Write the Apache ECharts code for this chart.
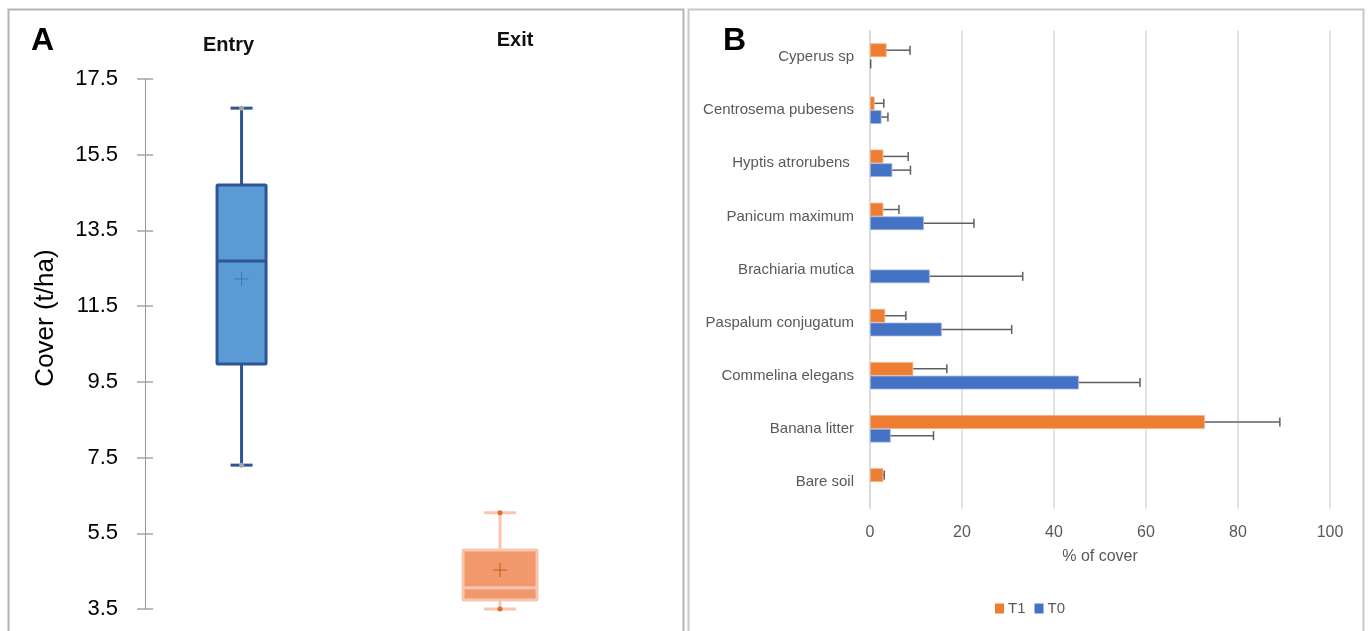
<!DOCTYPE html>
<html>
<head>
<meta charset="utf-8">
<script src="https://cdn.jsdelivr.net/npm/echarts@6/dist/echarts.min.js"></script>
<style>
  html, body { margin: 0; padding: 0; background: #fff; }
  #chart { width: 1368px; height: 631px; }
</style>
</head>
<body>
<div id="chart"></div>
<script>
// panel A: cover (t/ha), box stats = min, Q1, median, Q3, max
const groups = ["Entry", "Exit"];
const entryBox = [7.30, 9.97, 12.69, 14.70, 16.73];
const exitBox = [3.50, 3.74, 4.06, 5.06, 6.04];
const groupMeans = [12.22, 4.53];
const coverTicks = { min: 3.5, max: 17.5, step: 2 };

// panel B: % of cover by species (T1 / T0) with sd
const species = [
  "Bare soil", "Banana litter", "Commelina elegans", "Paspalum conjugatum",
  "Brachiaria mutica", "Panicum maximum", "Hyptis atrorubens ",
  "Centrosema pubesens", "Cyperus sp"
];
const t1Cover = [2.9, 72.8, 9.4, 3.3, 0, 2.9, 2.9, 1.0, 3.6];
const t1Err = [0.2, 16.3, 7.3, 4.5, null, 3.4, 5.4, 2.0, 5.1];
const t0Cover = [0, 4.5, 45.4, 15.6, 13.0, 11.7, 4.85, 2.5, 0];
const t0Err = [null, 9.3, 13.3, 15.2, 20.2, 10.9, 3.95, 1.4, 0.15];

const el = (id) => document.getElementById(id);
const chart = echarts.init(el("chart"));

const BAR_W = 13.7;
const fontA = "Liberation Sans";
const fontB = "Liberation Sans";

const entryStyle = {
  boxW: 49, capW: 22, fill: "#5B9BD5", stroke: "#2F5597", lw: 3,
  whisker: "#2F5597", median: "#2F5597", dot: "#A5A5A5", cross: "#4472C4"
};
const exitStyle = {
  boxW: 74, capW: 32, fill: "#F1996C", stroke: "#F8C5AE", lw: 3,
  whisker: "#F8C5AE", median: "#F8C5AE", dot: "#E46C2A", cross: "#C55A11"
};

function boxItem(s) {
  return function (params, api) {
    const c = api.value(0);
    const lo = api.coord([c, api.value(1)]);
    const q1 = api.coord([c, api.value(2)]);
    const md = api.coord([c, api.value(3)]);
    const q3 = api.coord([c, api.value(4)]);
    const hi = api.coord([c, api.value(5)]);
    const mn = api.coord([c, api.value(6)]);
    const x = lo[0], hw = s.boxW / 2, cw = s.capW / 2;
    const ln = (x1, y1, x2, y2, color, w) => ({
      type: "line", shape: { x1, y1, x2, y2 }, style: { stroke: color, lineWidth: w }
    });
    return {
      type: "group",
      children: [
        ln(x, q3[1], x, hi[1], s.whisker, s.lw),
        ln(x, q1[1], x, lo[1], s.whisker, s.lw),
        ln(x - cw, hi[1], x + cw, hi[1], s.whisker, s.lw),
        ln(x - cw, lo[1], x + cw, lo[1], s.whisker, s.lw),
        {
          type: "rect",
          shape: { x: x - hw, y: q3[1], width: s.boxW, height: q1[1] - q3[1], r: 1 },
          style: { fill: s.fill, stroke: s.stroke, lineWidth: s.lw }
        },
        ln(x - hw, md[1], x + hw, md[1], s.median, s.lw),
        ln(x - 7, mn[1], x + 7, mn[1], s.cross, 1),
        ln(x, mn[1] - 7, x, mn[1] + 7, s.cross, 1),
        { type: "circle", shape: { cx: x, cy: hi[1], r: 2.5 }, style: { fill: s.dot } },
        { type: "circle", shape: { cx: x, cy: lo[1], r: 2.5 }, style: { fill: s.dot } }
      ]
    };
  };
}

function errItem(shift) {
  return function (params, api) {
    const cat = api.value(0);
    const a = api.coord([api.value(1), cat]);
    const b = api.coord([api.value(1) + api.value(2), cat]);
    const y = a[1] + shift;
    return {
      type: "group",
      children: [
        { type: "line", shape: { x1: a[0], y1: y, x2: b[0], y2: y }, style: { stroke: "#5f5f5f", lineWidth: 1.5 } },
        { type: "line", shape: { x1: b[0], y1: y - 4.5, x2: b[0], y2: y + 4.5 }, style: { stroke: "#5f5f5f", lineWidth: 1.5 } }
      ]
    };
  };
}

const errRows = (vals, errs) =>
  vals.map((v, i) => [i, v, errs[i]]).filter(r => r[2] !== null);

// zero bars would leave a thin border line, Excel draws nothing there
const barItems = (vals) => vals.map(v => v === 0 ? { value: 0, itemStyle: { borderWidth: 0, opacity: 0 } } : v);

const yAxisA = {
  type: "value", gridIndex: 0, position: "left",
  min: coverTicks.min, max: coverTicks.max, interval: coverTicks.step,
  offset: -32.7
};

chart.setOption({
  animation: false,
  textStyle: { fontFamily: fontA },
  graphic: [
    { type: "rect", shape: { x: 8.5, y: 9.5, width: 675, height: 640 }, style: { fill: "none", stroke: "#b4b4b4", lineWidth: 2 } },
    { type: "rect", shape: { x: 688.5, y: 9.5, width: 675, height: 640 }, style: { fill: "none", stroke: "#c8c8c8", lineWidth: 2 } }
  ],
  title: [
    { text: "A", left: 26, top: 20, textStyle: { fontSize: 32, fontWeight: "bold", color: "#000", fontFamily: fontA } },
    { text: "B", left: 718, top: 20, textStyle: { fontSize: 32, fontWeight: "bold", color: "#000", fontFamily: fontA } }
  ],
  legend: {
    data: ["T1", "T0"],
    left: 990, top: 596,
    itemWidth: 9, itemHeight: 10, itemGap: 9, icon: "rect",
    itemStyle: { borderWidth: 0 },
    textStyle: { fontSize: 15, color: "#595959", fontFamily: fontB, padding: [0, 0, 0, -1] }
  },
  grid: [
    { left: 112.3, right: 738.7, top: 79, bottom: 22, outerBoundsMode: "none" },
    { left: 870, right: 38, top: 30.5, bottom: 122.5, outerBoundsMode: "none" }
  ],
  xAxis: [
    {
      type: "category", gridIndex: 0, data: groups, position: "top",
      axisLine: { show: false }, axisTick: { show: false },
      axisLabel: {
        interval: 0, margin: 24,
        formatter: (v) => v === "Entry" ? "{en|" + v + "}" : "{ex|" + v + "}",
        rich: {
          en: { fontSize: 20, fontWeight: "bold", color: "#111", fontFamily: fontA, padding: [0, 26, 0, 0] },
          ex: { fontSize: 20, fontWeight: "bold", color: "#111", fontFamily: fontA, padding: [0, 0, 5, 30] }
        }
      }
    },
    {
      type: "value", gridIndex: 1, min: 0, max: 100, interval: 20,
      axisLine: { show: false }, axisTick: { show: false },
      splitLine: { lineStyle: { color: "#d9d9d9", width: 1.5 } },
      axisLabel: { fontSize: 16, color: "#595959", margin: 16, fontFamily: fontB },
      name: "% of cover", nameLocation: "middle", nameGap: 40,
      nameTextStyle: { fontSize: 16, color: "#595959", fontFamily: fontB }
    }
  ],
  yAxis: [
    Object.assign({}, yAxisA, {
      name: "Cover (t/ha)", nameLocation: "middle", nameGap: 86,
      nameTextStyle: { fontSize: 26, color: "#000", fontFamily: fontA, padding: [0, 0, 0, 52] },
      axisLine: { show: true, lineStyle: { color: "#959595", width: 1 } },
      axisTick: { show: true, length: 8, lineStyle: { color: "#a6a6a6", width: 1.5 } },
      axisLabel: { fontSize: 22, color: "#000", margin: 27, fontFamily: fontA, formatter: (v) => v.toFixed(1) },
      splitLine: { show: false }
    }),
    Object.assign({}, yAxisA, {
      axisLine: { show: false },
      axisTick: { show: true, inside: true, length: 8, lineStyle: { color: "#a6a6a6", width: 1.5 } },
      axisLabel: { show: false },
      splitLine: { show: false }
    }),
    {
      type: "category", gridIndex: 1, data: species,
      axisLine: { show: true, lineStyle: { color: "#d9d9d9", width: 1.5 } },
      axisTick: { show: false },
      axisLabel: { fontSize: 15, color: "#595959", margin: 16, fontFamily: fontB }
    }
  ],
  series: [
    {
      name: "Entry", type: "custom", xAxisIndex: 0, yAxisIndex: 0,
      renderItem: boxItem(entryStyle),
      encode: { x: 0, y: [1, 2, 3, 4, 5, 6] },
      data: [[0].concat(entryBox, [groupMeans[0]])]
    },
    {
      name: "Exit", type: "custom", xAxisIndex: 0, yAxisIndex: 0,
      renderItem: boxItem(exitStyle),
      encode: { x: 0, y: [1, 2, 3, 4, 5, 6] },
      data: [[1].concat(exitBox, [groupMeans[1]])]
    },
    {
      name: "T1", type: "bar", xAxisIndex: 1, yAxisIndex: 2,
      barWidth: BAR_W, barGap: "0%",
      itemStyle: { color: "#ED7D31", borderColor: "#F4B183", borderWidth: 0.8 },
      data: barItems(t1Cover)
    },
    {
      name: "T0", type: "bar", xAxisIndex: 1, yAxisIndex: 2,
      barWidth: BAR_W, barGap: "0%",
      itemStyle: { color: "#4472C4", borderColor: "#9DB5E2", borderWidth: 0.8 },
      data: barItems(t0Cover)
    },
    {
      name: "T1 sd", type: "custom", xAxisIndex: 1, yAxisIndex: 2, z: 5,
      renderItem: errItem(-BAR_W / 2),
      encode: { x: [1, 2], y: 0 },
      data: errRows(t1Cover, t1Err)
    },
    {
      name: "T0 sd", type: "custom", xAxisIndex: 1, yAxisIndex: 2, z: 5,
      renderItem: errItem(BAR_W / 2),
      encode: { x: [1, 2], y: 0 },
      data: errRows(t0Cover, t0Err)
    }
  ]
});
</script>
</body>
</html>
